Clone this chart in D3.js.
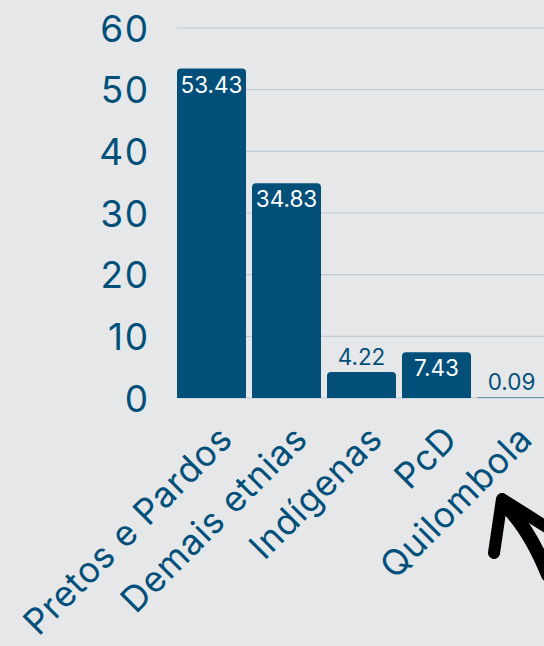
<!DOCTYPE html>
<html><head><meta charset="utf-8">
<script src="https://cdn.jsdelivr.net/npm/d3@7"></script>
<style>
html,body{margin:0;padding:0;background:#e5e7e9;}
svg{display:block;}
</style></head>
<body>
<script>
const categories = ["Pretos e Pardos","Demais etnias","Indígenas","PcD","Quilombola"];
const values = [53.43, 34.83, 4.22, 7.43, 0.09];
const yTicks = [0,10,20,30,40,50,60];

const W = 544, H = 646;
const FONT = "Inter, 'Noto Sans', sans-serif";
const BLUE = "#02507a";
const svg = d3.select("body").append("svg").attr("width", W).attr("height", H);
svg.append("rect").attr("width", W).attr("height", H).attr("fill", "#e5e7e9");

const x = d3.scaleBand().domain(categories).range([177, 546]).paddingInner(0.08).paddingOuter(0);
const y = d3.scaleLinear().domain([0, 60]).range([398, 28]);

// grid
svg.append("g").selectAll("line").data(yTicks).join("line")
  .attr("x1", 177).attr("x2", W).attr("y1", d => y(d)).attr("y2", d => y(d))
  .attr("stroke", "#bccbd6").attr("stroke-width", 1.2);

// y axis labels
const yAxis = d3.axisLeft(y).tickValues(yTicks).tickSize(0).tickPadding(0);
const gy = svg.append("g").attr("transform", "translate(148,0)").call(yAxis);
gy.select(".domain").remove();
gy.selectAll("text").attr("font-family", FONT).attr("font-size", 37).attr("font-weight", 400)
  .attr("fill", BLUE).attr("letter-spacing", 1.5).attr("dx", 1.5).attr("dy", "0.36em");

// bars with rounded top corners
function barPath(x0, y0, w, h, r) {
  r = Math.min(r, h, w / 2);
  return `M${x0},${y0 + h} V${y0 + r} Q${x0},${y0} ${x0 + r},${y0} H${x0 + w - r} Q${x0 + w},${y0} ${x0 + w},${y0 + r} V${y0 + h} Z`;
}
const data = categories.map((c, i) => ({c, v: values[i]}));
svg.append("g").selectAll("path").data(data).join("path")
  .attr("d", d => barPath(x(d.c), y(d.v), x.bandwidth(), y(0) - y(d.v), 4))
  .attr("fill", BLUE);

// value labels
const inside = d => (y(0) - y(d.v) > 35);
svg.append("g").selectAll("text").data(data).join("text")
  .attr("x", d => x(d.c) + x.bandwidth() / 2)
  .attr("y", d => inside(d) ? y(d.v) + 24 : y(d.v) - 7)
  .attr("text-anchor", "middle")
  .attr("font-family", FONT).attr("font-size", 22.5)
  .attr("fill", d => inside(d) ? "#ffffff" : BLUE)
  .text(d => d.v.toFixed(2));

// x labels
const xAxis = d3.axisBottom(x).tickSize(0).tickPadding(0);
const gx = svg.append("g").attr("transform", "translate(0,398)").call(xAxis);
gx.select(".domain").remove();
gx.selectAll("text")
  .attr("font-family", FONT).attr("font-size", 35.5).attr("fill", BLUE)
  .attr("letter-spacing", 0.8)
  .attr("text-anchor", "end").attr("dy", 0).attr("y", 0)
  .attr("transform", "translate(23,43) rotate(-45)");

// decorative arrow
const arrow = svg.append("g").attr("fill", "none").attr("stroke", "#000").attr("stroke-linecap", "round").attr("stroke-linejoin", "round");
arrow.append("path").attr("d", "M494,553 L502,499 L548,528").attr("stroke-width", 12);
arrow.append("path").attr("d", "M505,505 Q530,530 548,575").attr("stroke-width", 14);
</script>
</body></html>
